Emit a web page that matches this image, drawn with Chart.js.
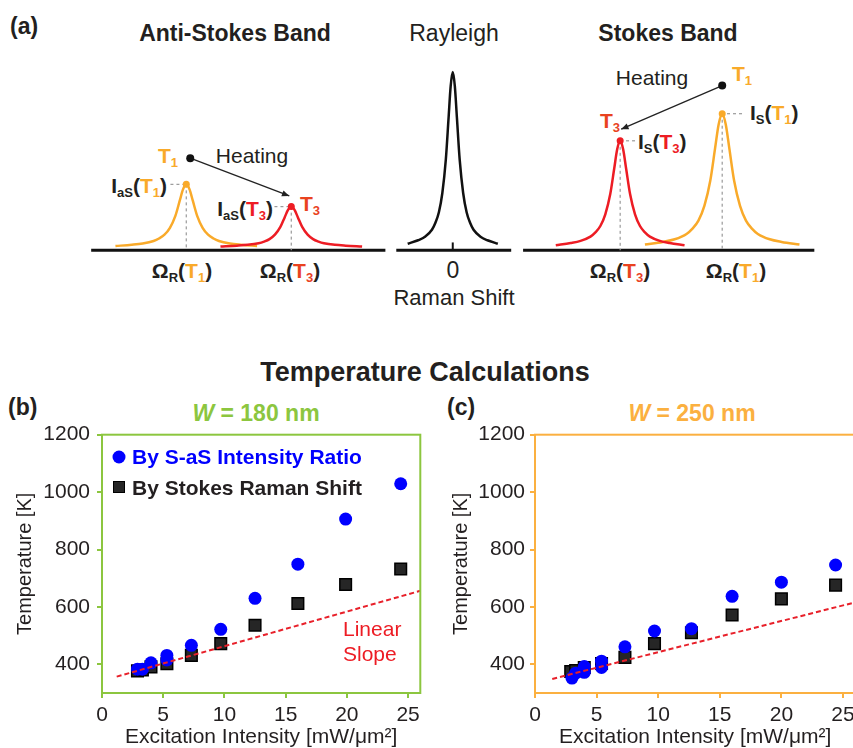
<!DOCTYPE html>
<html lang="en">
<head>
<meta charset="UTF-8">
<title>Raman thermometry</title>
<script src="https://cdn.jsdelivr.net/npm/chart.js"></script>
<style>
  html, body { margin: 0; padding: 0; }
  body {
    width: 853px; height: 748px; overflow: hidden; position: relative; background: #fff;
    font-family: 'Liberation Sans', Arial, Helvetica, sans-serif; color: #231f20;
  }
  canvas { position: absolute; }
  #specChart { left: 0; top: 40px; }
  #chartB { left: 0; top: 425px; }
  #chartC { left: 425px; top: 425px; }
  .lbl { position: absolute; line-height: 1; white-space: nowrap; }
  .c { transform: translate(-50%, -50%); }
  .r { transform: translate(-100%, -50%); }
  .l { transform: translate(0, -50%); }
  .b { font-weight: bold; }
  .sub { position: relative; top: 0.3em; font-size: 62%; }
  .or { color: #f9aa2a; }
  .rd { color: #ed1c24; }
  .ro { color: #e9421f; }
  .mk { position: absolute; transform: translate(-50%, -50%); }
  .dot { width: 13px; height: 13px; border-radius: 50%; background: #0000ff; }
  .sq { width: 10px; height: 10px; background: #262626; border: 1.5px solid #000; }
</style>
</head>
<body>
  <!-- panel (a) text -->
  <span class="lbl l b" style="left:10px;top:26px;font-size:23px">(a)</span>
  <span class="lbl c b" style="left:235px;top:33px;font-size:23px">Anti-Stokes Band</span>
  <span class="lbl c" style="left:454px;top:33px;font-size:23px">Rayleigh</span>
  <span class="lbl c b" style="left:668px;top:33px;font-size:23px">Stokes Band</span>

  <span class="lbl r b or" style="left:178px;top:155px;font-size:21px">T<span class="sub">1</span></span>
  <span class="lbl c" style="left:252px;top:155px;font-size:21px">Heating</span>
  <span class="lbl r b" style="left:167px;top:185px;font-size:21px">I<span class="sub">aS</span>(<span class="or">T<span class="sub">1</span></span>)</span>
  <span class="lbl l b ro" style="left:300px;top:203px;font-size:21px">T<span class="sub">3</span></span>
  <span class="lbl r b" style="left:273px;top:208px;font-size:21px">I<span class="sub">aS</span>(<span class="rd">T<span class="sub">3</span></span>)</span>
  <span class="lbl c b" style="left:182px;top:270px;font-size:21px">Ω<span class="sub">R</span>(<span class="or">T<span class="sub">1</span></span>)</span>
  <span class="lbl c b" style="left:290px;top:270px;font-size:21px">Ω<span class="sub">R</span>(<span class="ro">T<span class="sub">3</span></span>)</span>

  <span class="lbl c" style="left:453px;top:270px;font-size:23px">0</span>
  <span class="lbl c" style="left:454px;top:298px;font-size:22px">Raman Shift</span>

  <span class="lbl c" style="left:652px;top:77px;font-size:21px">Heating</span>
  <span class="lbl l b or" style="left:732px;top:73px;font-size:21px">T<span class="sub">1</span></span>
  <span class="lbl r b ro" style="left:620px;top:120px;font-size:21px">T<span class="sub">3</span></span>
  <span class="lbl l b" style="left:750px;top:112px;font-size:21px">I<span class="sub">S</span>(<span class="or">T<span class="sub">1</span></span>)</span>
  <span class="lbl l b" style="left:638px;top:141px;font-size:21px">I<span class="sub">S</span>(<span class="rd">T<span class="sub">3</span></span>)</span>
  <span class="lbl c b" style="left:620px;top:270px;font-size:21px">Ω<span class="sub">R</span>(<span class="ro">T<span class="sub">3</span></span>)</span>
  <span class="lbl c b" style="left:736px;top:270px;font-size:21px">Ω<span class="sub">R</span>(<span class="or">T<span class="sub">1</span></span>)</span>

  <!-- panels (b), (c) text -->
  <span class="lbl c b" style="left:425px;top:372px;font-size:27px">Temperature Calculations</span>
  <span class="lbl l b" style="left:8px;top:407px;font-size:23px">(b)</span>
  <span class="lbl c b" style="left:256px;top:413px;font-size:23px;color:#8cc63f"><i>W</i> = 180 nm</span>
  <span class="lbl l b" style="left:447px;top:407px;font-size:23px">(c)</span>
  <span class="lbl c b" style="left:692px;top:413px;font-size:23px;color:#fbb040"><i>W</i> = 250 nm</span>

  <canvas id="specChart" width="853" height="250"></canvas>
  <canvas id="chartB" width="430" height="323"></canvas>
  <canvas id="chartC" width="440" height="323"></canvas>

  <div class="mk dot" style="left:119px;top:457px"></div>
  <span class="lbl l b" style="left:132px;top:456px;font-size:21px;color:#0000ff">By S-aS Intensity Ratio</span>
  <div class="mk sq" style="left:119px;top:487px"></div>
  <span class="lbl l b" style="left:132px;top:487px;font-size:21px">By Stokes Raman Shift</span>
  <span class="lbl l rd" style="left:343px;top:628px;font-size:21px">Linear</span>
  <span class="lbl l rd" style="left:343px;top:653px;font-size:21px">Slope</span>

  <script>
    // ---- (a) schematic spectrum: x = Raman shift (arb.), y = intensity (arb.) ----
    const peakCenters = [-26.9, -16.3, 0, 16.9, 27.2];   // aS T1, aS T3, Rayleigh, S T3, S T1
    const peakHeights = [65, 42, 181, 110, 138];
    const peakHalfWidths = [1.1, 1.1, 0.7, 1.0, 1.2];
    // line shape (offset in half widths, relative height)
    const shapeOffsets = [-6.5, -5, -4, -3, -2.5, -2, -1.5, -1, -0.6, -0.3, 0, 0.3, 0.6, 1, 1.5, 2, 2.5, 3, 4, 5, 6.5];
    const shapeHeights = [0.02, 0.04, 0.06, 0.1, 0.14, 0.2, 0.31, 0.5, 0.74, 0.92, 1, 0.92, 0.74, 0.5, 0.31, 0.2, 0.14, 0.1, 0.06, 0.04, 0.02];
    const axisLevel = -3;
    const axisStarts = [-36.5, -5.7, 7.1];
    const axisEnds = [-6.8, 5.9, 36.5];
    const guideStarts = [-28.5, -18.0, null, 18.4, 29.2];
    const heatStartX = [-26.5, 27.2], heatStartY = [92, 167];
    const heatEndX = [-16.5, 17.0], heatEndY = [53, 122];

    // ---- (b) W = 180 nm ----
    const bRatioX = [2.9, 3.3, 4.0, 5.3, 5.3, 7.3, 9.7, 12.5, 16.0, 19.9, 24.4];
    const bRatioT = [383, 383, 405, 431, 415, 466, 522, 630, 749, 906, 1029];
    const bShiftX = [2.9, 3.3, 4.0, 5.3, 7.3, 9.7, 12.5, 16.0, 19.9, 24.4];
    const bShiftT = [377, 380, 391, 402, 431, 472, 536, 612, 678, 732];
    const bSlopeX = [1.2, 26];
    const bSlopeT = [357, 656];

    // ---- (c) W = 250 nm ----
    const cRatioX = [3.0, 3.3, 4.0, 4.0, 5.4, 5.4, 7.3, 9.7, 12.7, 16.0, 20.0, 24.4];
    const cRatioT = [352, 369, 392, 372, 411, 389, 461, 516, 524, 637, 686, 746];
    const cShiftX = [2.9, 3.3, 4.0, 5.4, 7.3, 9.7, 12.7, 16.0, 20.0, 24.4];
    const cShiftT = [375, 378, 389, 403, 424, 472, 510, 572, 628, 676];
    const cSlopeX = [1.4, 26];
    const cSlopeT = [349, 616];

    const xTicks = [0, 5, 10, 15, 20, 25];
    const yTicks = [400, 600, 800, 1000, 1200];

    const ORANGE = '#f9aa2a', RED = '#ed1c24', INK = '#231f20';
    Chart.defaults.font.family = "'Liberation Sans', Arial, Helvetica, sans-serif";
    Chart.defaults.color = INK;

    const pts = (xs, ys) => xs.map((x, i) => ({ x: x, y: ys[i] }));
    const line = (data, color, width, dash) => ({
      data: data, showLine: true, borderColor: color, borderWidth: width,
      borderDash: dash || [], pointRadius: 0, fill: false
    });

    // arrow heads at the end of datasets marked arrow:true
    const arrowHeads = {
      id: 'arrowHeads',
      afterDatasetsDraw(chart) {
        const { ctx, scales: { x, y } } = chart;
        chart.data.datasets.forEach(ds => {
          if (!ds.arrow) return;
          const a = ds.data[0], b = ds.data[ds.data.length - 1];
          const x0 = x.getPixelForValue(a.x), y0 = y.getPixelForValue(a.y);
          const x1 = x.getPixelForValue(b.x), y1 = y.getPixelForValue(b.y);
          const ang = Math.atan2(y1 - y0, x1 - x0), len = 8;
          ctx.save();
          ctx.fillStyle = ds.borderColor;
          ctx.beginPath();
          ctx.moveTo(x1, y1);
          ctx.lineTo(x1 - len * Math.cos(ang - 0.4), y1 - len * Math.sin(ang - 0.4));
          ctx.lineTo(x1 - len * Math.cos(ang + 0.4), y1 - len * Math.sin(ang + 0.4));
          ctx.closePath();
          ctx.fill();
          ctx.restore();
        });
      }
    };

    const peakColors = [ORANGE, RED, '#111', RED, ORANGE];
    const peakCurve = i => shapeOffsets.map((o, k) => ({
      x: peakCenters[i] + o * peakHalfWidths[i],
      y: peakHeights[i] * shapeHeights[k]
    }));
    const curveSet = i => Object.assign(line(peakCurve(i), peakColors[i], 2.5), { tension: 0.4, cubicInterpolationMode: 'monotone' });

    const specSets = [];
    // top-most first
    specSets.push({ data: pts(heatStartX, heatStartY), pointRadius: 4, backgroundColor: '#111', borderWidth: 0 });
    specSets.push({ data: pts([0, 1, 3, 4].map(i => peakCenters[i]), [0, 1, 3, 4].map(i => peakHeights[i])),
      pointRadius: 3.5, backgroundColor: [ORANGE, RED, RED, ORANGE], borderWidth: 0 });
    heatStartX.forEach((x, i) => {
      specSets.push(Object.assign(line(pts([x, heatEndX[i]], [heatStartY[i], heatEndY[i]]), '#222', 1.3), { arrow: true }));
    });
    [1, 3, 0, 4, 2].forEach(i => specSets.push(curveSet(i)));
    [0, 1, 3, 4].forEach(i => {
      specSets.push(line(pts([peakCenters[i], peakCenters[i]], [peakHeights[i], axisLevel]), '#9a9a9a', 1.2, [3, 3]));
      specSets.push(line(pts([guideStarts[i], peakCenters[i]], [peakHeights[i], peakHeights[i]]), '#9a9a9a', 1.2, [3, 3]));
    });
    axisStarts.forEach((s, i) => specSets.push(line(pts([s, axisEnds[i]], [axisLevel, axisLevel]), '#111', 3)));
    specSets.push(line(pts([0, 0], [axisLevel, 5]), '#111', 2));

    new Chart(document.getElementById('specChart'), {
      type: 'scatter',
      data: { datasets: specSets },
      options: {
        responsive: false, animation: false, devicePixelRatio: 1,
        layout: { padding: 0 },
        plugins: { legend: { display: false }, tooltip: { enabled: false } },
        scales: {
          x: { type: 'linear', display: false, min: -45.3, max: 40.0 },
          y: { type: 'linear', display: false, min: -40, max: 210 }
        }
      },
      plugins: [arrowHeads]
    });

    // frame round the plot area
    const frame = {
      id: 'frame',
      afterDatasetsDraw(chart, args, opts) {
        const { ctx, chartArea: a } = chart;
        ctx.save();
        ctx.strokeStyle = opts.color;
        ctx.lineWidth = 2;
        ctx.strokeRect(a.left, a.top, a.right - a.left, a.bottom - a.top);
        ctx.restore();
      }
    };

    function tempPanel(id, p) {
      return new Chart(document.getElementById(id), {
        type: 'scatter',
        data: {
          datasets: [
            line(pts(p.slopeX, p.slopeT), '#e8202a', 2, [5, 3]),
            { label: 'By S-aS Intensity Ratio', data: pts(p.ratioX, p.ratioT), pointStyle: 'circle',
              pointRadius: 6.5, backgroundColor: '#0000ff', borderWidth: 0 },
            { label: 'By Stokes Raman Shift', data: pts(p.shiftX, p.shiftT), pointStyle: 'rect',
              pointRadius: 8.2, backgroundColor: '#262626', borderColor: '#000', borderWidth: 1.5 }
          ]
        },
        options: {
          responsive: false, animation: false, devicePixelRatio: 1,
          layout: { padding: { top: 9, right: p.padRight, left: 0, bottom: 0 } },
          plugins: { legend: { display: false }, tooltip: { enabled: false }, frame: { color: p.color } },
          scales: {
            x: {
              type: 'linear', min: 0, max: 26,
              afterBuildTicks: s => { s.ticks = xTicks.map(v => ({ value: v })); },
              afterFit: s => { s.height = 55; s.paddingLeft = 0; s.paddingRight = 0; },
              grid: { drawOnChartArea: false, color: p.color, lineWidth: 2, tickLength: 5 },
              border: { color: p.color, width: 2 },
              ticks: { font: { size: 21 }, color: INK, padding: 5, maxRotation: 0, callback: v => String(v) },
              title: { display: true, text: 'Excitation Intensity [mW/μm²]', font: { size: 21 },
                color: INK, padding: { top: 0, bottom: -2 } }
            },
            y: {
              type: 'linear', min: 300, max: 1200,
              afterBuildTicks: s => { s.ticks = yTicks.map(v => ({ value: v })); },
              afterFit: s => { s.width = p.yWidth; s.paddingTop = 0; s.paddingBottom = 0; },
              grid: { drawOnChartArea: false, color: p.color, lineWidth: 2, tickLength: 5 },
              border: { color: p.color, width: 2 },
              ticks: { font: { size: 21 }, color: INK, padding: p.tickPad, callback: v => String(v) },
              title: { display: true, text: 'Temperature [K]', font: { size: 20 },
                color: INK, padding: { top: p.titlePad, bottom: 0 } }
            }
          }
        },
        plugins: [frame]
      });
    }

    tempPanel('chartB', { ratioX: bRatioX, ratioT: bRatioT, shiftX: bShiftX, shiftT: bShiftT,
      slopeX: bSlopeX, slopeT: bSlopeT, color: '#8cc63f', yWidth: 102, padRight: 8, tickPad: 7, titlePad: 13 });
    tempPanel('chartC', { ratioX: cRatioX, ratioT: cRatioT, shiftX: cShiftX, shiftT: cShiftT,
      slopeX: cSlopeX, slopeT: cSlopeT, color: '#fbb040', yWidth: 110, padRight: 5, tickPad: 5, titlePad: 24 });
  </script>
</body>
</html>
